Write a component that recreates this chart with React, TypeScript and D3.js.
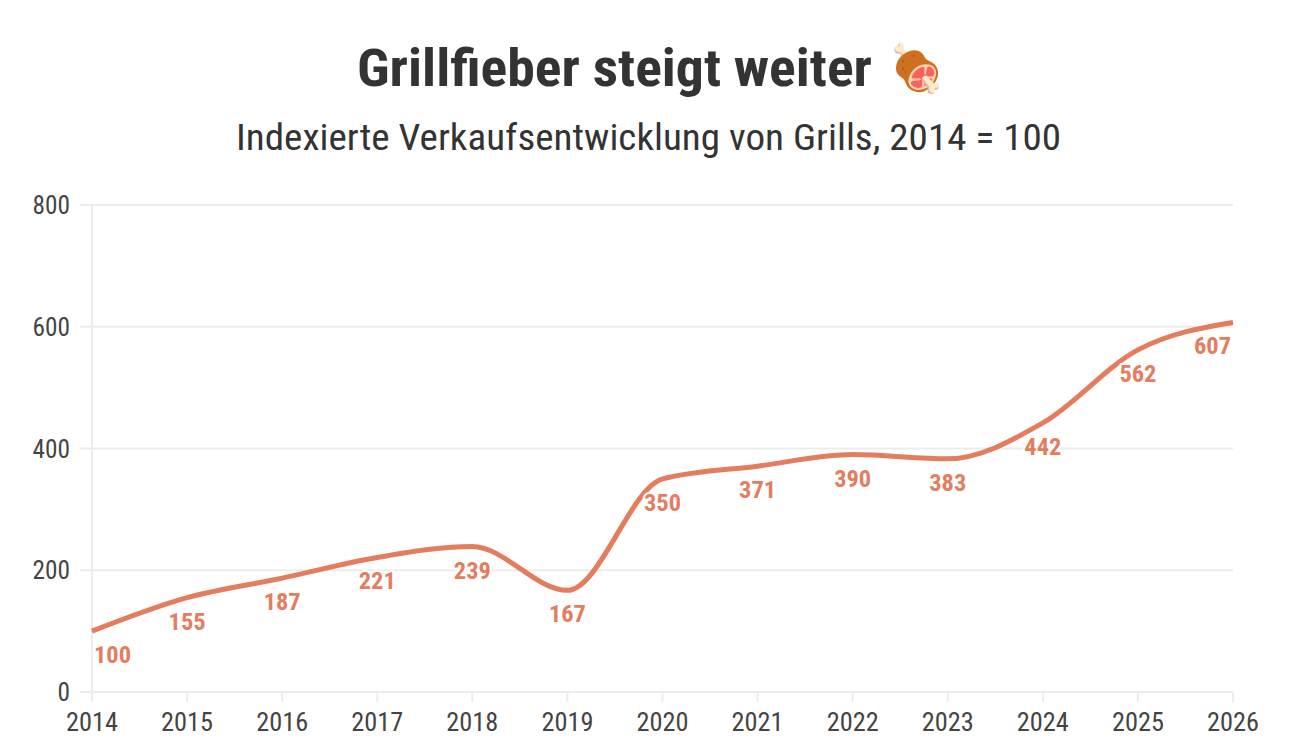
import { useEffect, useRef } from 'react';
import * as d3 from 'd3';

const years = [2014, 2015, 2016, 2017, 2018, 2019, 2020, 2021, 2022, 2023, 2024, 2025, 2026];
const values = [100, 155, 187, 221, 239, 167, 350, 371, 390, 383, 442, 562, 607];
const yTicks = [0, 200, 400, 600, 800];

const FONT = "'Roboto Condensed', Roboto, sans-serif";
const LINE = '#e47c5e';

export default function App() {
  const ref = useRef<SVGSVGElement | null>(null);

  useEffect(() => {
    document.body.style.margin = '0';
    const svg = d3.select(ref.current);
    svg.selectAll('*').remove();

    const left = 92, right = 1233, top = 205, bottom = 692;

    const x = d3.scaleLinear().domain([2014, 2026]).range([left, right]);
    const y = d3.scaleLinear().domain([0, 800]).range([bottom, top]);

    // title + subtitle (condensed look via textLength)
    svg.append('text')
      .attr('x', 357).attr('y', 86)
      .attr('font-family', FONT).attr('font-weight', 700).attr('font-size', 51)
      .attr('fill', '#333')
      .attr('textLength', 515).attr('lengthAdjust', 'spacingAndGlyphs')
      .text('Grillfieber steigt weiter');
    svg.append('text')
      .attr('x', 916).attr('y', 84)
      .attr('text-anchor', 'middle')
      .attr('font-size', 46)
      .text('🍖');
    svg.append('text')
      .attr('x', 236).attr('y', 150)
      .attr('font-family', FONT).attr('font-size', 37)
      .attr('fill', '#333')
      .attr('textLength', 825).attr('lengthAdjust', 'spacingAndGlyphs')
      .text('Indexierte Verkaufsentwicklung von Grills, 2014 = 100');

    // grid
    svg.append('g').selectAll('line')
      .data(yTicks)
      .join('line')
      .attr('x1', left - 12).attr('x2', right)
      .attr('y1', d => y(d)).attr('y2', d => y(d))
      .attr('stroke', '#ececec').attr('stroke-width', 2);

    // y axis line
    svg.append('line')
      .attr('x1', left).attr('x2', left)
      .attr('y1', top).attr('y2', bottom + 10)
      .attr('stroke', '#ececec').attr('stroke-width', 2);

    // x ticks
    svg.append('g').selectAll('line')
      .data(years)
      .join('line')
      .attr('x1', d => x(d)).attr('x2', d => x(d))
      .attr('y1', bottom).attr('y2', bottom + 10)
      .attr('stroke', '#ececec').attr('stroke-width', 2);

    svg.append('g').selectAll('text')
      .data(years)
      .join('text')
      .attr('x', d => x(d)).attr('y', 731)
      .attr('text-anchor', 'middle')
      .attr('font-family', FONT).attr('font-size', 25)
      .attr('fill', '#444')
      .attr('textLength', 52).attr('lengthAdjust', 'spacingAndGlyphs')
      .text(d => d);

    svg.append('g').selectAll('text')
      .data(yTicks)
      .join('text')
      .attr('x', 70).attr('y', d => y(d) + 9)
      .attr('text-anchor', 'end')
      .attr('font-family', FONT).attr('font-size', 25)
      .attr('fill', '#444')
      .attr('textLength', d => String(d).length * 12.5).attr('lengthAdjust', 'spacingAndGlyphs')
      .text(d => d);

    // line
    const pts = years.map((yr, i) => [x(yr), y(values[i])] as [number, number]);
    svg.append('path')
      .datum(pts)
      .attr('fill', 'none')
      .attr('stroke', LINE)
      .attr('stroke-width', 5)
      .attr('d', d3.line().curve(d3.curveMonotoneX));

    // value labels
    const labels = svg.append('g');
    years.forEach((yr, i) => {
      const w = 37;
      const cx = Math.max(left + 2 + w / 2, Math.min(right - 2 - w / 2, x(yr)));
      labels.append('text')
        .attr('x', cx).attr('y', y(values[i]) + 32)
        .attr('text-anchor', 'middle')
        .attr('font-family', FONT).attr('font-weight', 700).attr('font-size', 24)
        .attr('fill', LINE)
        .attr('stroke', '#fff').attr('stroke-width', 4).attr('paint-order', 'stroke')
        .attr('textLength', w).attr('lengthAdjust', 'spacingAndGlyphs')
        .text(values[i]);
    });
  }, []);

  return <svg ref={ref} width={1290} height={750} style={{ display: 'block', background: '#fff' }} />;
}
